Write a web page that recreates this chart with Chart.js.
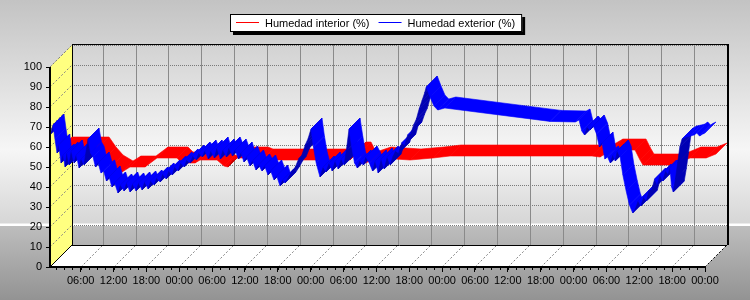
<!DOCTYPE html>
<html><head><meta charset="utf-8">
<script src="https://cdn.jsdelivr.net/npm/chart.js@4"></script>
<style>html,body{margin:0;padding:0;background:#fff}canvas{display:block}</style>
</head><body>
<canvas id="c" width="750" height="300"></canvas>
<script>
// ---- data ----
const seriesNames = ['Humedad interior (%)', 'Humedad exterior (%)'];
const seriesColors = ['#ff0000', '#0000ff'];
const seriesDark = ['#c00000', '#0000b4'];
// hours since 00:00 of the first day
const interiorHours = [0.4, 7.16, 8.43, 9.71, 11.54, 13.0, 15.74, 17.93, 21.58, 22.49, 24.87, 25.78, 28.89, 30.16, 30.89, 31.81, 32.54, 36.19, 37.10, 44.04, 53.17, 54.08, 55.0, 55.91, 58.65, 64.13, 68.33, 71.43, 97.36, 98.82, 101.01, 105.21, 106.13, 106.67, 112.15, 115.26, 118.18, 120];
const interiorValues = [54, 54, 49, 45, 42, 44.5, 44.5, 49, 49, 46.5, 46.5, 48, 48, 45, 44.5, 48, 49, 49, 48, 48, 48, 51.5, 51.5, 46.5, 49, 48, 49, 50, 50, 49.5, 53, 53, 48, 45.5, 45.5, 49, 49, 51];
const exteriorHours = [
  0.4, 0.7, 0.95, 1.3, 1.68, 2.0, 2.41, 2.8, 3.14, 3.5, 3.87, 4.3, 4.78, 5.2, 5.7, 6.1, 6.61, 7.0, 7.34, 7.8, 8.25,
  8.7, 9.2, 9.7, 10.2, 10.7, 11.2, 11.7, 12.2, 12.8, 13.3, 13.9, 14.4, 15.0, 15.5, 16.1, 16.6, 17.2, 17.7, 18.3, 18.8,
  19.4, 19.9, 20.5, 21.0, 21.6, 22.1, 22.7, 23.2, 23.8, 24.3, 24.9, 25.4, 26.0, 26.5, 27.1, 27.6, 28.2, 28.7,
  29.3, 29.8, 30.4, 30.9, 31.5, 32.0, 32.6, 33.1, 33.7, 34.2, 34.8, 35.3,
  35.8, 36.3, 36.9, 37.4, 38.0, 38.5, 39.1, 39.6, 40.2, 40.7, 41.3, 41.8, 42.4, 42.9, 43.3,
  44.0, 44.6, 45.2, 45.8, 46.4, 47.0, 47.5, 48.06, 48.5, 49.0, 49.7, 50.3, 50.8, 51.4, 51.9, 52.5, 53.0, 53.6, 54.1, 54.5,
  55.0, 55.5, 56.0, 56.5, 57.0, 57.6, 58.1, 58.7, 59.3, 59.8, 60.3, 60.9, 61.4, 62.0, 62.5, 63.0, 63.5, 64.1, 64.6, 65.2,
  65.7, 66.3, 66.8, 67.3, 67.8, 68.3, 68.8, 69.1, 69.8, 70.5, 71.2,
  72.5, 91.7, 96.3,
  97.0, 97.5, 98.0, 98.5, 99.0, 99.6, 100.2, 100.7, 101.2, 101.7, 102.2, 102.7,
  103.2, 103.6, 104.0, 104.5, 105.0, 105.6, 106.2, 106.8,
  107.3, 107.8, 108.3, 108.8, 109.3, 109.8, 110.3, 110.8, 111.3, 111.8, 112.3, 112.8, 113.3, 113.6, 113.9, 114.2, 114.6, 115.0, 115.4, 115.8, 116.5, 117.3, 118.0, 118.5, 119.0, 119.6, 120
];
const exteriorValues = [
  66, 69, 71, 64, 57, 61, 52, 56, 50, 57, 51, 58, 52, 56, 49.5, 54, 51, 58, 64, 57, 55,
  50, 52, 47, 48, 43, 45, 40, 42, 37, 41, 38, 42, 37.5, 41.5, 38, 42, 38.5, 42.5, 39, 43,
  41, 44.5, 42.5, 46.5, 44, 48, 46, 50, 48, 52, 50, 53.5, 52, 55.5, 53.5, 57, 55, 58,
  54, 58, 54.5, 59.5, 54, 58.5, 55, 59.5, 55.5, 58.5, 54, 57,
  52.5, 55, 50.5, 53, 48.5, 51, 48, 50.5, 46, 48, 43.5, 45.5, 40.5, 43.5, 42,
  45, 48, 50, 54, 56, 61, 64, 69, 60, 52, 45, 50, 47.5, 52, 48, 53, 49, 54, 51, 58,
  69, 60, 52, 49.5, 53, 51, 55, 52, 48, 53, 47, 54, 49, 55, 51, 55, 58, 57, 62, 61,
  66, 67, 71, 74, 79, 83, 87, 90, 85, 80.5, 78.5,
  79.5, 72.8, 72.5,
  73.5, 68, 66, 70, 68.5, 70.5, 66.5, 60, 62, 54, 55, 52,
  56, 53, 58, 55, 46, 38, 31, 27,
  29, 33, 30.5, 35, 33, 38.5, 39, 44, 41, 46, 43, 48, 46.5, 49.5, 40, 37.5, 44, 52, 60, 64, 65, 65.5, 66, 67, 65.5, 66.5, 67
];
const yTickValues = [0, 10, 20, 30, 40, 50, 60, 70, 80, 90, 100];
const xTickHours = [6, 12, 18, 24, 30, 36, 42, 48, 54, 60, 66, 72, 78, 84, 90, 96, 102, 108, 114, 120];
const xTickLabels = ['06:00', '12:00', '18:00', '00:00', '06:00', '12:00', '18:00', '00:00', '06:00', '12:00', '18:00', '00:00', '06:00', '12:00', '18:00', '00:00', '06:00', '12:00', '18:00', '00:00'];

// ---- drawing helpers ----
const D = 22;          // total 3D depth in px
const SLOT = 11;       // depth per series
const FONT = '11px "Liberation Sans", Arial, sans-serif';

function line(ctx, x1, y1, x2, y2, color, width, dash) {
  ctx.save();
  ctx.strokeStyle = color; ctx.lineWidth = width || 1;
  ctx.setLineDash(dash || []);
  ctx.beginPath(); ctx.moveTo(x1, y1); ctx.lineTo(x2, y2); ctx.stroke();
  ctx.restore();
}
function poly(ctx, pts, fill) {
  ctx.beginPath();
  ctx.moveTo(pts[0][0], pts[0][1]);
  for (let i = 1; i < pts.length; i++) ctx.lineTo(pts[i][0], pts[i][1]);
  ctx.closePath();
  ctx.fillStyle = fill; ctx.fill();
}

const scenePlugin = {
  id: 'scene',
  beforeDraw(chart) {
    const { ctx, chartArea: a, scales: { x: xs, y: ys } } = chart;
    const W = chart.width, H = chart.height;
    const g = ctx.createLinearGradient(0, 0, 0, H);
    g.addColorStop(0, '#c3c3c3');
    g.addColorStop(0.5, '#f6f6f6');
    g.addColorStop(0.744, '#d6d6d6');
    g.addColorStop(0.746, '#ffffff');
    g.addColorStop(0.752, '#ffffff');
    g.addColorStop(0.755, '#bdbdbd');
    g.addColorStop(1, '#939393');
    ctx.fillStyle = g; ctx.fillRect(0, 0, W, H);
    const L = a.left, R = a.right, T = a.top, B = a.bottom;
    poly(ctx, [[L, B], [R, B], [R + D, B - D], [L + D, B - D]], '#ffffff');
    poly(ctx, [[L, B], [L, T], [L + D, T - D], [L + D, B - D]], '#ffff80');
    yTickValues.forEach(v => {
      const y = Math.round(ys.getPixelForValue(v));
      if (v > 0) {
        line(ctx, L + D, y - D + 0.5, R + D, y - D + 0.5, '#7a7a7a', 1, [1, 1]);
        line(ctx, L, y, L + D, y - D, '#808080', 1, [2, 2]);
      }
    });
    xTickHours.forEach(h => {
      const x = Math.round(xs.getPixelForValue(h));
      if (h < xs.max) line(ctx, x + D + 0.5, T - D, x + D + 0.5, B - D, '#8a8a8a', 1);
      line(ctx, x, B, x + D, B - D, '#808080', 1, [2, 2]);
    });
    line(ctx, L + D, T - D - 0.5, R + D + 1, T - D - 0.5, '#000', 1);
    line(ctx, R + D + 1, T - D - 1, R + D + 1, B - D, '#000', 2);
    line(ctx, L + D, B - D + 0.5, R + D, B - D + 0.5, '#000', 1);
    line(ctx, L + D + 0.5, T - D, L + D + 0.5, B - D, '#000', 1);
    line(ctx, L, B, L + D, B - D, '#000', 1);
    line(ctx, R, B, R + D, B - D, '#000', 1, [2, 2]);
    line(ctx, L, T, L + D, T - D, '#808080', 1, [2, 2]);
  },
  afterDatasetsDraw(chart) {
    const { ctx } = chart;
    // series 0 (interior) sits in the back slot, series 1 (exterior) in front
    const slots = [[SLOT, D], [0, SLOT]];
    [0, 1].forEach(di => {
      const pts = chart.getDatasetMeta(di).data;
      const [z0, z1] = slots[di];
      ctx.save();
      for (let i = 0; i < pts.length - 1; i++) {
        const p = pts[i], q = pts[i + 1];
        const flip = (q.x - p.x) + (q.y - p.y) < 0;
        const col = flip ? seriesDark[di] : seriesColors[di];
        ctx.beginPath();
        ctx.moveTo(p.x + z0, p.y - z0);
        ctx.lineTo(q.x + z0, q.y - z0);
        ctx.lineTo(q.x + z1, q.y - z1);
        ctx.lineTo(p.x + z1, p.y - z1);
        ctx.closePath();
        ctx.fillStyle = col; ctx.fill();
        ctx.strokeStyle = col; ctx.lineWidth = 0.6; ctx.stroke();
      }
      ctx.restore();
    });
  },
  afterDraw(chart) {
    const { ctx, chartArea: a, scales: { x: xs } } = chart;
    const L = a.left, R = a.right, T = a.top, B = a.bottom;
    for (let h = 1.5; h < xs.max; h += 1.5) {
      if (h < xs.min) continue;
      const x = Math.round(xs.getPixelForValue(h)) + 0.5;
      line(ctx, x, B, x, B + 3, '#000', 1);
    }
    line(ctx, L, T, L, B + 1, '#000', 2);
    line(ctx, L - 1, B, R, B, '#000', 2);
    // legend
    ctx.save();
    ctx.font = FONT;
    const lx = 230, ly = 14, lh = 18;
    let cx = lx + 6;
    const items = [];
    seriesNames.forEach((n, i) => {
      const tw = ctx.measureText(n).width;
      items.push({ x: cx, n, i, tw });
      cx += 23 + 6 + tw + 9;
    });
    const lw = cx - 9 + 7 - lx;
    ctx.fillStyle = '#000'; ctx.fillRect(lx + 3, ly + 3, lw, lh);
    ctx.fillStyle = '#fff'; ctx.fillRect(lx, ly, lw, lh);
    ctx.strokeStyle = '#000'; ctx.lineWidth = 1; ctx.strokeRect(lx + 0.5, ly + 0.5, lw - 1, lh - 1);
    ctx.textBaseline = 'middle'; ctx.textAlign = 'left';
    items.forEach(it => {
      line(ctx, it.x, ly + 8.5, it.x + 23, ly + 8.5, seriesColors[it.i], 1);
      ctx.fillStyle = '#000';
      ctx.fillText(it.n, it.x + 29, ly + lh / 2 + 0.5);
    });
    ctx.restore();
  }
};

Chart.defaults.font.family = '"Liberation Sans", Arial, sans-serif';
Chart.defaults.font.size = 11;
Chart.defaults.color = '#000';

new Chart(document.getElementById('c'), {
  type: 'line',
  data: {
    datasets: [
      { label: seriesNames[0], data: interiorHours.map((h, i) => ({ x: h, y: interiorValues[i] })),
        borderColor: seriesColors[0], backgroundColor: seriesColors[0], showLine: false, pointRadius: 0 },
      { label: seriesNames[1], data: exteriorHours.map((h, i) => ({ x: h, y: exteriorValues[i] })),
        borderColor: seriesColors[1], backgroundColor: seriesColors[1], showLine: false, pointRadius: 0 }
    ]
  },
  options: {
    responsive: false, animation: false,
    layout: { padding: { top: 67, right: 45, left: 0, bottom: 0 } },
    plugins: { legend: { display: false }, tooltip: { enabled: false } },
    scales: {
      x: {
        type: 'linear', min: 0.4, max: 120,
        afterFit: s => { s.height = 33; },
        afterBuildTicks: s => { s.ticks = xTickHours.map(v => ({ value: v })); },
        ticks: { autoSkip: false, maxRotation: 0, padding: 2, callback: (v, i) => xTickLabels[i] },
        grid: { display: true, drawOnChartArea: false, drawTicks: true, tickLength: 5, color: '#000' },
        border: { display: false }
      },
      y: {
        min: 0, max: 100,
        afterFit: s => { s.width = 50; },
        afterBuildTicks: s => { s.ticks = yTickValues.map(v => ({ value: v })); },
        ticks: { padding: 4 },
        grid: { display: true, drawOnChartArea: false, drawTicks: true, tickLength: 4, color: '#000' },
        border: { display: false }
      }
    }
  },
  plugins: [scenePlugin]
});
</script>
</body></html>
